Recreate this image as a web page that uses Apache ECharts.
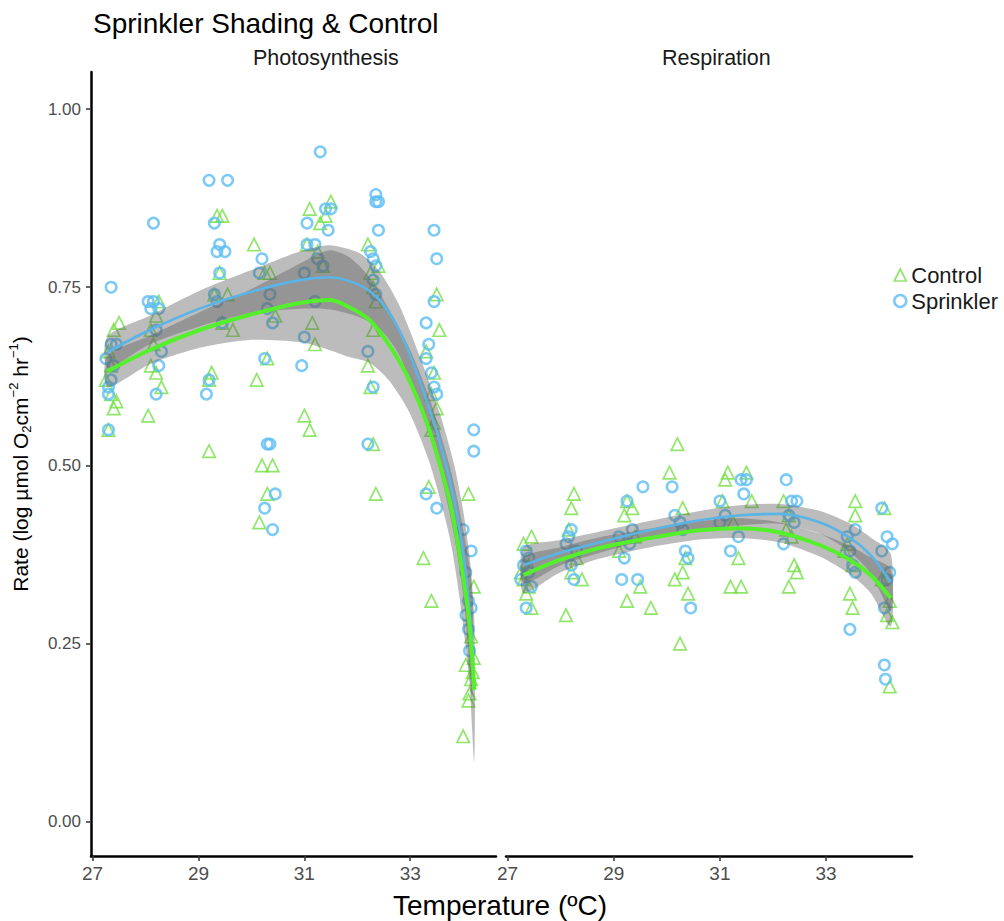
<!DOCTYPE html>
<html>
<head>
<meta charset="utf-8">
<script src="https://cdn.jsdelivr.net/npm/echarts@6/dist/echarts.min.js"></script>
<style>html,body{margin:0;padding:0;background:#fff}#c{width:1004px;height:921px}</style>
</head>
<body>
<div id="c"></div>
<script>
// ---------- data ----------
const xTicks = [27, 29, 31, 33];
const yTicks = [0, 0.25, 0.5, 0.75, 1.0];
const panels = ['Photosynthesis', 'Respiration'];
const groups = ['Control', 'Sprinkler'];

// Photosynthesis raw points [temperature, rate]
const photoControl = [
  [27.25,0.62],[27.3,0.55],[27.35,0.60],[27.4,0.58],[27.45,0.59],[27.3,0.66],[27.4,0.69],[27.5,0.70],[27.35,0.64],
  [28.05,0.57],[28.1,0.64],[28.15,0.67],[28.2,0.71],[28.25,0.73],[28.3,0.61],[28.2,0.63],[28.1,0.69],
  [29.2,0.52],[29.2,0.62],[29.25,0.63],[29.35,0.85],[29.45,0.85],[29.4,0.77],[29.55,0.74],[29.65,0.69],[29.3,0.74],[29.45,0.70],
  [30.05,0.81],[30.15,0.42],[30.1,0.62],[30.2,0.50],[30.4,0.50],[30.3,0.46],[30.25,0.77],[30.35,0.77],[30.3,0.65],[30.45,0.71],
  [31.0,0.57],[31.1,0.55],[31.15,0.70],[31.2,0.67],[31.1,0.86],[31.25,0.80],[31.4,0.85],[31.5,0.87],[31.35,0.78],[31.05,0.81],[31.3,0.84],
  [32.2,0.81],[32.25,0.77],[32.3,0.75],[32.35,0.73],[32.3,0.69],[32.25,0.61],[32.3,0.53],[32.35,0.46],[32.4,0.78],[32.2,0.64],
  [33.25,0.37],[33.4,0.31],[33.35,0.47],[33.45,0.56],[33.5,0.58],[33.4,0.55],[33.5,0.74],[33.55,0.69],[33.3,0.66],[33.45,0.63],[33.4,0.60],
  [34.0,0.12],[34.05,0.22],[34.1,0.17],[34.12,0.18],[34.15,0.20],[34.2,0.23],[34.15,0.26],[34.1,0.46],[34.18,0.21],[34.2,0.33]
];
const photoSprinkler = [
  [27.35,0.75],[27.3,0.55],[27.3,0.61],[27.25,0.65],[27.35,0.67],[27.45,0.67],[27.3,0.60],[27.4,0.64],[27.35,0.62],
  [28.15,0.84],[28.05,0.73],[28.1,0.72],[28.15,0.73],[28.25,0.72],[28.2,0.69],[28.25,0.64],[28.2,0.60],[28.3,0.66],
  [29.2,0.90],[29.55,0.90],[29.3,0.84],[29.4,0.81],[29.35,0.80],[29.5,0.80],[29.4,0.77],[29.3,0.74],[29.35,0.73],[29.2,0.62],[29.15,0.60],[29.45,0.70],
  [30.2,0.79],[30.15,0.77],[30.35,0.74],[30.4,0.70],[30.25,0.65],[30.3,0.53],[30.35,0.53],[30.25,0.44],[30.45,0.46],[30.4,0.41],[30.3,0.72],
  [31.3,0.94],[31.05,0.84],[31.05,0.81],[31.2,0.81],[31.25,0.79],[31.35,0.78],[31.0,0.77],[31.0,0.68],[30.95,0.64],[31.5,0.86],[31.45,0.83],[31.4,0.86],[31.2,0.73],
  [32.35,0.88],[32.35,0.87],[32.4,0.87],[32.4,0.83],[32.25,0.80],[32.3,0.79],[32.35,0.78],[32.2,0.66],[32.3,0.61],[32.2,0.53],[32.3,0.76],[32.35,0.74],
  [33.45,0.83],[33.5,0.79],[33.3,0.70],[33.35,0.67],[33.3,0.65],[33.45,0.61],[33.5,0.60],[33.3,0.46],[33.5,0.44],[33.45,0.73],[33.4,0.63],
  [34.2,0.55],[34.2,0.52],[34.15,0.38],[34.05,0.29],[34.1,0.31],[34.1,0.27],[34.12,0.24],[34.0,0.41],[34.15,0.30],[34.05,0.35]
];
// Respiration raw points
const respControl = [
  [27.3,0.39],[27.45,0.40],[27.3,0.34],[27.35,0.32],[27.45,0.30],[27.4,0.36],[27.25,0.35],[27.4,0.33],
  [28.25,0.46],[28.2,0.44],[28.1,0.29],[28.15,0.41],[28.3,0.37],[28.4,0.34],[28.2,0.35],
  [29.25,0.45],[29.2,0.43],[29.35,0.44],[29.1,0.38],[29.25,0.31],[29.7,0.30],[29.4,0.40],[29.5,0.33],
  [30.05,0.49],[30.2,0.53],[30.3,0.44],[30.3,0.35],[30.4,0.32],[30.25,0.25],[30.35,0.37],[30.15,0.34],
  [31.1,0.48],[31.15,0.49],[31.05,0.45],[31.2,0.33],[31.4,0.33],[31.5,0.49],[31.35,0.37],[31.6,0.45],[31.25,0.42],
  [32.2,0.45],[32.3,0.43],[32.35,0.40],[32.4,0.36],[32.3,0.33],[32.45,0.35],[32.25,0.41],
  [33.55,0.45],[33.55,0.43],[33.4,0.39],[33.5,0.36],[33.45,0.32],[33.5,0.30],[33.35,0.38],
  [34.1,0.44],[34.2,0.31],[34.15,0.29],[34.25,0.28],[34.2,0.19],[34.05,0.34]
];
const respSprinkler = [
  [27.35,0.38],[27.4,0.37],[27.3,0.36],[27.4,0.35],[27.25,0.34],[27.35,0.30],[27.45,0.33],
  [28.15,0.40],[28.2,0.41],[28.1,0.39],[28.2,0.36],[28.25,0.34],[28.3,0.38],
  [29.55,0.47],[29.25,0.45],[29.1,0.40],[29.2,0.37],[29.15,0.34],[29.45,0.34],[29.3,0.39],[29.35,0.41],
  [30.1,0.47],[30.25,0.42],[30.3,0.41],[30.35,0.38],[30.45,0.30],[30.15,0.43],[30.4,0.37],
  [31.0,0.45],[31.1,0.43],[31.0,0.42],[31.4,0.48],[31.5,0.48],[31.45,0.46],[31.35,0.40],[31.2,0.38],
  [32.25,0.48],[32.35,0.45],[32.45,0.45],[32.3,0.43],[32.4,0.42],[32.2,0.39],
  [33.55,0.41],[33.45,0.38],[33.5,0.36],[33.55,0.35],[33.45,0.27],[33.4,0.40],
  [34.05,0.44],[34.15,0.40],[34.25,0.39],[34.05,0.38],[34.2,0.35],[34.15,0.34],[34.1,0.30],[34.1,0.22],[34.12,0.20]
];

// Smoothed fits (temperature, fitted rate, half-width of confidence band)
const photoCtlT  = [27.28,28.08,29.02,29.96,30.91,31.47,31.85,32.23,32.60,32.98,33.36,33.74,33.92,34.11,34.21];
const photoCtlY  = [0.632,0.662,0.690,0.711,0.728,0.732,0.722,0.704,0.669,0.620,0.550,0.451,0.381,0.283,0.185];
const photoCtlSE = [0.022,0.020,0.025,0.035,0.055,0.070,0.070,0.060,0.050,0.045,0.045,0.050,0.060,0.080,0.100];
const photoSprT  = [27.28,28.08,29.02,29.96,30.91,31.47,32.04,32.42,32.79,33.17,33.55,33.83,34.02,34.17];
const photoSprY  = [0.659,0.690,0.720,0.743,0.760,0.764,0.753,0.732,0.690,0.620,0.535,0.451,0.367,0.255];
const photoSprSE = [0.022,0.020,0.025,0.030,0.040,0.045,0.045,0.040,0.035,0.035,0.040,0.050,0.060,0.080];
const respCtlT   = [27.30,27.97,28.72,29.67,30.62,31.38,32.13,32.89,33.46,33.84,34.22];
const respCtlY   = [0.346,0.367,0.384,0.398,0.409,0.412,0.406,0.388,0.367,0.346,0.314];
const respCtlSE  = [0.025,0.018,0.015,0.013,0.013,0.014,0.014,0.016,0.020,0.025,0.040];
const respSprT   = [27.30,27.97,28.72,29.67,30.62,31.38,32.13,32.89,33.46,33.84,34.22];
const respSprY   = [0.360,0.377,0.392,0.409,0.423,0.430,0.432,0.420,0.398,0.374,0.336];
const respSprSE  = [0.025,0.018,0.015,0.013,0.013,0.014,0.014,0.016,0.020,0.025,0.040];

// ---------- styling ----------
const GREEN_PT = '#74e045';
const GREEN_LN = '#55f02c';
const BLUE_PT = '#5bbdf2';
const BLUE_LN = '#5ab4e6';
const RIBBON = 'rgba(95,95,95,0.42)';
const FONT = 'Liberation Sans, Arial, sans-serif';
const X_MIN = 26.97, X_MAX = 34.62, Y_MIN = -0.048, Y_MAX = 1.052;

const chart = echarts.init(document.getElementById('c'), null, {renderer: 'svg'});

function zip(t, y) { return t.map((v, i) => [v, y[i]]); }

function ribbon(t, y, se, idx) {
  return {
    type: 'custom', xAxisIndex: idx, yAxisIndex: idx, z: 3, silent: true,
    data: [[t[0], y[0]]],
    renderItem: function (params, api) {
      const pts = [];
      for (let i = 0; i < t.length; i++) pts.push(api.coord([t[i], y[i] + se[i]]));
      for (let i = t.length - 1; i >= 0; i--) pts.push(api.coord([t[i], y[i] - se[i]]));
      return {type: 'polygon', shape: {points: pts, smooth: 0.25}, style: {fill: RIBBON, stroke: null}};
    }
  };
}
function pts(name, data, idx) {
  const isC = name === 'Control';
  return {
    type: 'scatter', name: name, xAxisIndex: idx, yAxisIndex: idx, z: 2,
    symbol: isC ? 'triangle' : 'circle', symbolSize: isC ? 12.5 : 10.5,
    itemStyle: {color: 'rgba(0,0,0,0)', borderColor: isC ? GREEN_PT : BLUE_PT, borderWidth: isC ? 1.7 : 2.5},
    data: data
  };
}
function fit(name, t, y, idx) {
  const isC = name === 'Control';
  return {
    type: 'line', name: name + ' fit', xAxisIndex: idx, yAxisIndex: idx, z: 4, silent: true,
    showSymbol: false, smooth: 0.35,
    lineStyle: {color: isC ? GREEN_LN : BLUE_LN, width: isC ? 4 : 2.6},
    data: zip(t, y)
  };
}
function xAx(idx) {
  return {
    type: 'value', gridIndex: idx, min: X_MIN, max: X_MAX,
    axisLine: {show: true, onZero: false, lineStyle: {color: '#000', width: 2.5}},
    axisTick: {show: true, length: 5, customValues: xTicks, lineStyle: {color: '#333', width: 1.5}},
    axisLabel: {customValues: xTicks, fontSize: 19, color: '#4d4d4d', margin: 8, fontFamily: FONT},
    splitLine: {show: false}
  };
}

const option = {
  animation: false,
  backgroundColor: '#fff',
  textStyle: {fontFamily: FONT},
  title: {text: 'Sprinkler Shading & Control', left: 88, top: 4,
    textStyle: {fontSize: 28, fontWeight: 'normal', color: '#000', fontFamily: FONT}},
  legend: {
    left: 888, top: 259, orient: 'vertical', itemGap: 4, itemWidth: 12, itemHeight: 12,
    textStyle: {fontSize: 22, color: '#1a1a1a', fontFamily: FONT},
    data: [
      {name: 'Control', icon: 'triangle', itemStyle: {color: 'rgba(0,0,0,0)', borderColor: GREEN_PT, borderWidth: 1.7}},
      {name: 'Sprinkler', icon: 'circle', itemStyle: {color: 'rgba(0,0,0,0)', borderColor: BLUE_PT, borderWidth: 2.5}}
    ],
    selectedMode: false
  },
  graphic: [
    {type: 'text', left: 253, top: 47, style: {text: panels[0], fontSize: 21.5, fill: '#1a1a1a', fontFamily: FONT}},
    {type: 'text', left: 662, top: 47, style: {text: panels[1], fontSize: 21.5, fill: '#1a1a1a', fontFamily: FONT}},
    {type: 'text', left: 393, top: 891, style: {text: 'Temperature (ºC)', fontSize: 28, fill: '#000', fontFamily: FONT}}
  ],
  grid: [
    {left: 91, top: 72, width: 405, height: 784},
    {left: 506, top: 72, width: 406, height: 784}
  ],
  xAxis: [xAx(0), xAx(1)],
  yAxis: [
    {
      type: 'value', gridIndex: 0, min: Y_MIN, max: Y_MAX,
      axisLine: {show: true, onZero: false, lineStyle: {color: '#000', width: 2.5}},
      axisTick: {show: true, length: 5, customValues: yTicks, lineStyle: {color: '#333', width: 1.5}},
      axisLabel: {customValues: yTicks, fontSize: 17, color: '#4d4d4d', margin: 10, fontFamily: FONT,
        formatter: v => v.toFixed(2)},
      splitLine: {show: false},
      name: '{a|Rate (log µmol O}{sub|2}{a|cm}{sup|−2}{a| hr}{sup|−1}{a|)}',
      nameLocation: 'middle', nameGap: 58, nameRotate: 90,
      nameTextStyle: {
        fontFamily: FONT,
        rich: {
          a: {fontSize: 21, color: '#000', fontFamily: FONT, lineHeight: 26, verticalAlign: 'middle'},
          sub: {fontSize: 13, color: '#000', fontFamily: FONT, lineHeight: 26, verticalAlign: 'bottom', padding: [10, 0, 0, 0]},
          sup: {fontSize: 13, color: '#000', fontFamily: FONT, lineHeight: 26, verticalAlign: 'top', padding: [0, 0, 10, 0]}
        }
      }
    },
    {type: 'value', gridIndex: 1, min: Y_MIN, max: Y_MAX, show: false, splitLine: {show: false}}
  ],
  series: [
    pts('Control', photoControl, 0), pts('Sprinkler', photoSprinkler, 0),
    pts('Control', respControl, 1), pts('Sprinkler', respSprinkler, 1),
    ribbon(photoCtlT, photoCtlY, photoCtlSE, 0), ribbon(photoSprT, photoSprY, photoSprSE, 0),
    ribbon(respCtlT, respCtlY, respCtlSE, 1), ribbon(respSprT, respSprY, respSprSE, 1),
    fit('Sprinkler', photoSprT, photoSprY, 0), fit('Control', photoCtlT, photoCtlY, 0),
    fit('Sprinkler', respSprT, respSprY, 1), fit('Control', respCtlT, respCtlY, 1)
  ]
};
chart.setOption(option);
</script>
</body>
</html>
